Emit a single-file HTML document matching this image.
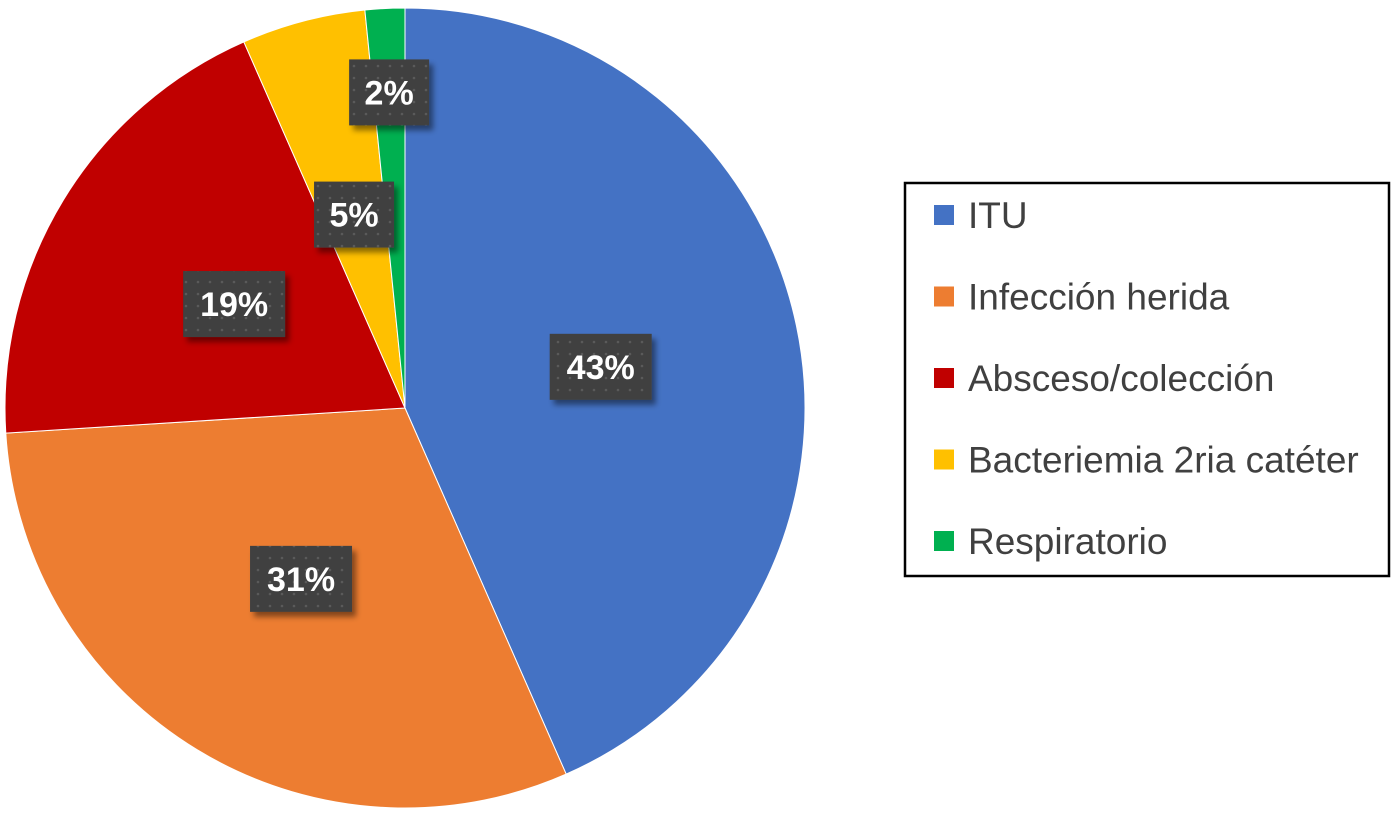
<!DOCTYPE html>
<html><head><meta charset="utf-8"><style>
html,body{margin:0;padding:0;background:#fff;width:1394px;height:818px;overflow:hidden}
svg text{font-family:"Liberation Sans",Arial,sans-serif}
</style></head><body>
<svg id="chart" width="1394" height="818">
<defs>
<pattern id="dots" width="12" height="12" patternUnits="userSpaceOnUse">
<rect width="12" height="12" fill="#404040"/><circle cx="6" cy="6" r="1.3" fill="#5a5a5a"/>
</pattern>
<filter id="sh" x="-20%" y="-20%" width="150%" height="150%"><feDropShadow dx="4" dy="5" stdDeviation="3" flood-color="#000" flood-opacity="0.45"/></filter>
</defs>
<g id="slices"></g>
<g id="labels"></g>
<g id="legend">
<rect x="905" y="183" width="484" height="393" fill="#fff" stroke="#000" stroke-width="2.5"/>
</g>
</svg>
<script>
const categories=["ITU","Infección herida","Absceso/colección","Bacteriemia 2ria catéter","Respiratorio"];
const values=[43.4,30.6,19.4,5.0,1.6];
const colors=["#4472c4","#ed7d31","#c00000","#ffc000","#00b050"];
const NS="http://www.w3.org/2000/svg";
const cx=405,cy=408,r=400;
const total=values.reduce((a,b)=>a+b,0);
function pt(a,rad){return [cx+rad*Math.sin(a),cy-rad*Math.cos(a)];}
const gS=document.getElementById('slices'),gL=document.getElementById('labels'),gLeg=document.getElementById('legend');
let acc=0;
values.forEach((v,i)=>{
  const a0=acc/total*2*Math.PI; acc+=v; const a1=acc/total*2*Math.PI;
  const p0=pt(a0,r),p1=pt(a1,r);
  const path=document.createElementNS(NS,'path');
  path.setAttribute('d',`M${cx},${cy}L${p0[0]},${p0[1]}A${r},${r} 0 ${a1-a0>Math.PI?1:0} 1 ${p1[0]},${p1[1]}Z`);
  path.setAttribute('fill',colors[i]);path.setAttribute('stroke','#fff');path.setAttribute('stroke-width','1');
  
  
  gS.appendChild(path);
  const am=(a0+a1)/2; const frac=v/total;
  const lp=pt(am, frac<0.03?0.79*r:0.5*r);
  const txt=Math.round(frac*100)+'%';
  const w=txt.length*22+36,h=66;
  const g=document.createElementNS(NS,'g');
  
  
  const rc=document.createElementNS(NS,'rect');
  rc.setAttribute('x',lp[0]-w/2);rc.setAttribute('y',lp[1]-h/2);rc.setAttribute('width',w);rc.setAttribute('height',h);
  rc.setAttribute('fill','url(#dots)');rc.setAttribute('filter','url(#sh)');
  g.appendChild(rc);
  const t=document.createElementNS(NS,'text');
  t.setAttribute('x',lp[0]);t.setAttribute('y',lp[1]+12);t.setAttribute('text-anchor','middle');
  t.setAttribute('font-size','34');t.setAttribute('font-weight','bold');t.setAttribute('fill','#fff');
  t.textContent=txt;g.appendChild(t);gL.appendChild(g);
  const e=document.createElementNS(NS,'g');
  
  
  const y=215+i*81.5;
  const sq=document.createElementNS(NS,'rect');
  sq.setAttribute('x',934);sq.setAttribute('y',y-10);sq.setAttribute('width',20);sq.setAttribute('height',20);sq.setAttribute('fill',colors[i]);
  e.appendChild(sq);
  const lt=document.createElementNS(NS,'text');
  lt.setAttribute('x',968);lt.setAttribute('y',y+13);lt.setAttribute('font-size','37');lt.setAttribute('fill','#404040');
  lt.textContent=categories[i];e.appendChild(lt);gLeg.appendChild(e);
});
</script>
</body></html>
